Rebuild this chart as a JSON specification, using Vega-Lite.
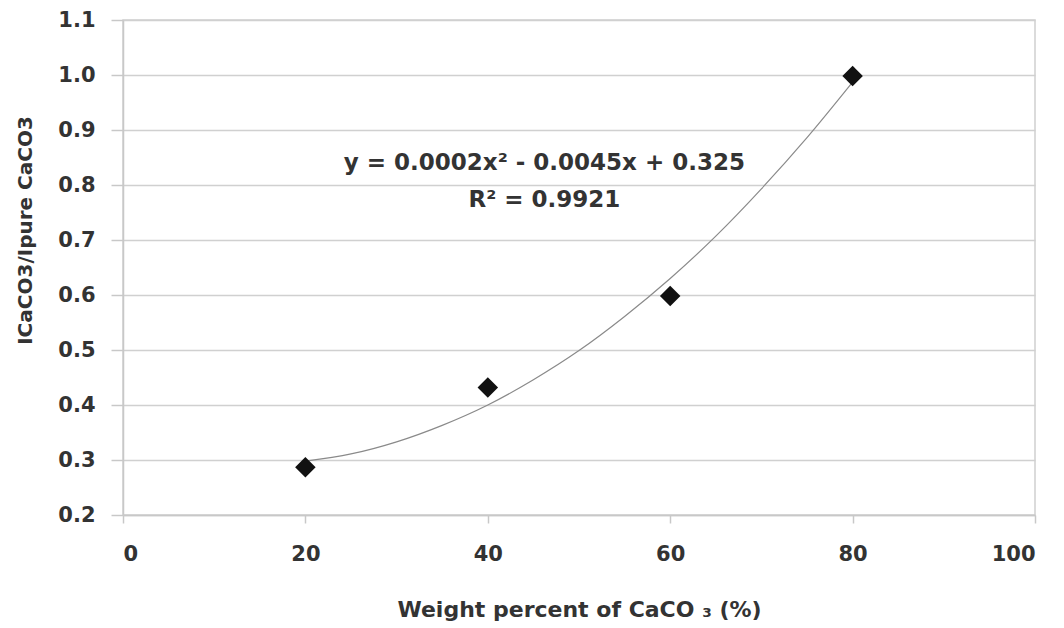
{
  "$schema": "https://vega.github.io/schema/vega-lite/v6.json",
  "width": 912,
  "height": 495,
  "autosize": "none",
  "padding": {"left": 123, "top": 20, "right": 29, "bottom": 113},
  "background": "white",
  "config": {
    "view": {"stroke": "#cfcfcf", "strokeWidth": 1.5},
    "font": "DejaVu Sans",
    "axis": {
      "labelFont": "DejaVu Sans",
      "titleFont": "DejaVu Sans",
      "labelFontWeight": "bold",
      "titleFontWeight": "bold",
      "labelColor": "#333333",
      "titleColor": "#333333",
      "domainColor": "#c8c8c8",
      "tickColor": "#c8c8c8",
      "gridColor": "#d0d0d0",
      "domainWidth": 1.5,
      "tickWidth": 1.5,
      "gridWidth": 1.5
    }
  },
  "datasets": {
    "points": [
      {"x": 20, "y": 0.287},
      {"x": 40, "y": 0.432},
      {"x": 60, "y": 0.598},
      {"x": 80, "y": 0.998}
    ],
    "curve": [
      {"x": 20, "y": 0.298},
      {"x": 25, "y": 0.311},
      {"x": 30, "y": 0.333},
      {"x": 35, "y": 0.363},
      {"x": 40, "y": 0.400},
      {"x": 45, "y": 0.446},
      {"x": 50, "y": 0.499},
      {"x": 55, "y": 0.561},
      {"x": 60, "y": 0.630},
      {"x": 65, "y": 0.707},
      {"x": 70, "y": 0.793},
      {"x": 75, "y": 0.886},
      {"x": 80, "y": 0.987}
    ],
    "labels": [
      {"x": 46.2, "y": 0.84, "text": "y = 0.0002x² - 0.0045x + 0.325"},
      {"x": 46.2, "y": 0.772, "text": "R² = 0.9921"}
    ]
  },
  "layer": [
    {
      "data": {"name": "curve"},
      "mark": {"type": "line", "color": "#8a8a8a", "strokeWidth": 1.2, "interpolate": "monotone"},
      "encoding": {
        "x": {
          "field": "x", "type": "quantitative",
          "scale": {"domain": [0, 100], "nice": false},
          "axis": {
            "values": [0, 20, 40, 60, 80, 100],
            "grid": false,
            "tickSize": 8,
            "labelFontSize": 21,
            "labelPadding": 20,
            "title": "Weight percent of CaCO ₃ (%)",
            "titleFontSize": 22,
            "titlePadding": 35
          }
        },
        "y": {
          "field": "y", "type": "quantitative",
          "scale": {"domain": [0.2, 1.1], "nice": false, "zero": false},
          "axis": {
            "values": [0.2, 0.3, 0.4, 0.5, 0.6, 0.7, 0.8, 0.9, 1.0, 1.1],
            "format": ".1f",
            "grid": true,
            "tickSize": 12,
            "labelFontSize": 21,
            "labelPadding": 16,
            "title": "ICaCO3/Ipure CaCO3",
            "titleFontSize": 20,
            "titleX": -98,
            "titleY": 210,
            "titleAngle": 270,
            "titleAlign": "center",
            "titleBaseline": "middle"
          }
        }
      }
    },
    {
      "data": {"name": "points"},
      "mark": {"type": "point", "shape": "diamond", "filled": true, "color": "#111111", "size": 420, "opacity": 1},
      "encoding": {
        "x": {"field": "x", "type": "quantitative"},
        "y": {"field": "y", "type": "quantitative"}
      }
    },
    {
      "data": {"name": "labels"},
      "mark": {"type": "text", "font": "DejaVu Sans", "fontWeight": "bold", "fontSize": 23, "color": "#333333", "align": "center", "baseline": "middle"},
      "encoding": {
        "x": {"field": "x", "type": "quantitative"},
        "y": {"field": "y", "type": "quantitative"},
        "text": {"field": "text"}
      }
    }
  ]
}
